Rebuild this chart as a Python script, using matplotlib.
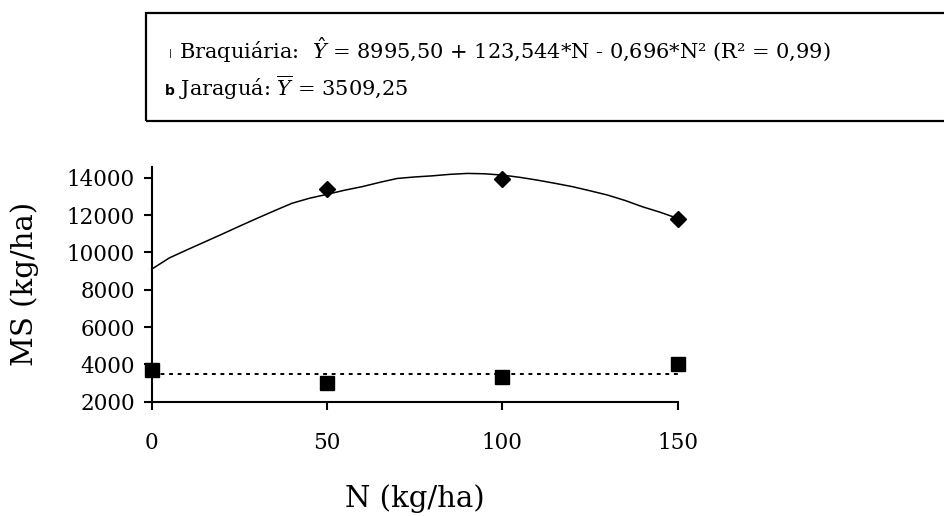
import matplotlib
matplotlib.use("Agg")
from matplotlib import pyplot as plt
import numpy as np

# nitrogen doses (kg/ha)
N_DOSES = [0, 50, 100, 150]

BRAQUIARIA_OBS = [13380, 13910, 11810]   # at N = 50, 100, 150
BRAQUIARIA_N = [50, 100, 150]
JARAGUA_OBS = [3710, 3000, 3300, 4030]
JARAGUA_MEAN = 3509.25

# fitted curve for Braquiária as drawn in the chart
CURVE_N = [0, 5, 10, 15, 20, 25, 30, 35, 40, 45, 50, 55, 60, 65, 70, 75,
           80, 85, 90, 95, 100, 105, 110, 115, 120, 125, 130, 135, 140, 145, 150]
CURVE_MS = [9100, 9700, 10130, 10550, 10970, 11400, 11820, 12230, 12630, 12900,
            13110, 13330, 13520, 13750, 13960, 14040, 14100, 14180, 14230, 14210,
            14140, 14020, 13870, 13700, 13520, 13300, 13070, 12780, 12440, 12150, 11820]

Y_TICKS = [2000, 4000, 6000, 8000, 10000, 12000, 14000]
X_TICKS = [0, 50, 100, 150]

plt.rcParams["font.family"] = ["DejaVu Serif"]
plt.rcParams["mathtext.fontset"] = "dejavuserif"

W, H = 944, 516
fig = plt.figure(figsize=(W / 100, H / 100), dpi=100)
ax = fig.add_axes([151.7 / W, 1 - 401.7 / H, 526 / W, 235 / H])

ax.plot(CURVE_N, CURVE_MS, color="black", lw=1.1, clip_on=False)
ax.plot(BRAQUIARIA_N, BRAQUIARIA_OBS, ls="none", marker="D", ms=8,
        color="black", clip_on=False, zorder=5)
ax.plot([N_DOSES[0], N_DOSES[-1]], [JARAGUA_MEAN, JARAGUA_MEAN], color="black",
        lw=1.4, ls=(0, (2.0, 2.4)), clip_on=False)
ax.plot(N_DOSES, JARAGUA_OBS, ls="none", marker="s", ms=9.5, color="black",
        clip_on=False, zorder=5)

ax.set_xlim(0, 150)
ax.set_ylim(2000, 14590)
ax.set_xticks(X_TICKS)
ax.set_yticks(Y_TICKS)
ax.tick_params(axis="x", direction="out", length=6, width=1.5, pad=16, labelsize=15.5)
ax.tick_params(axis="y", direction="out", length=6, width=1.5, pad=6, labelsize=15.5)
for side in ["top", "right"]:
    ax.spines[side].set_visible(False)
for side in ["left", "bottom"]:
    ax.spines[side].set_linewidth(1.5)

fig.text(25 / W, 1 - 284 / H, "MS (kg/ha)", rotation=90, ha="center", va="center", fontsize=21)
fig.text(415 / W, 1 - 499 / H, "N (kg/ha)", ha="center", va="center", fontsize=21)

# equation box
box = plt.Rectangle((145.7 / W, 1 - 120.5 / H), (W + 10 - 145.7) / W, (120.5 - 12.7) / H,
                    transform=fig.transFigure, fill=False, lw=1.6, color="black", clip_on=False)
fig.add_artist(box)
fig.text(170 / W, 1 - 53 / H, "|", fontsize=6, ha="center", va="center", family="DejaVu Sans")
fig.text(170 / W, 1 - 91 / H, "b", fontsize=10, ha="center", va="center", family="DejaVu Sans",
         fontweight="bold")
fig.text(179 / W, 1 - 50 / H,
         r"Braquiária:  $\hat{Y}$ = 8995,50 + 123,544*N - 0,696*N² (R² = 0,99)",
         fontsize=15, ha="left", va="center")
fig.text(179 / W, 1 - 88 / H, r"Jaraguá: $\overline{Y}$ = 3509,25",
         fontsize=15, ha="left", va="center")

fig.savefig("out.png", dpi=100)
